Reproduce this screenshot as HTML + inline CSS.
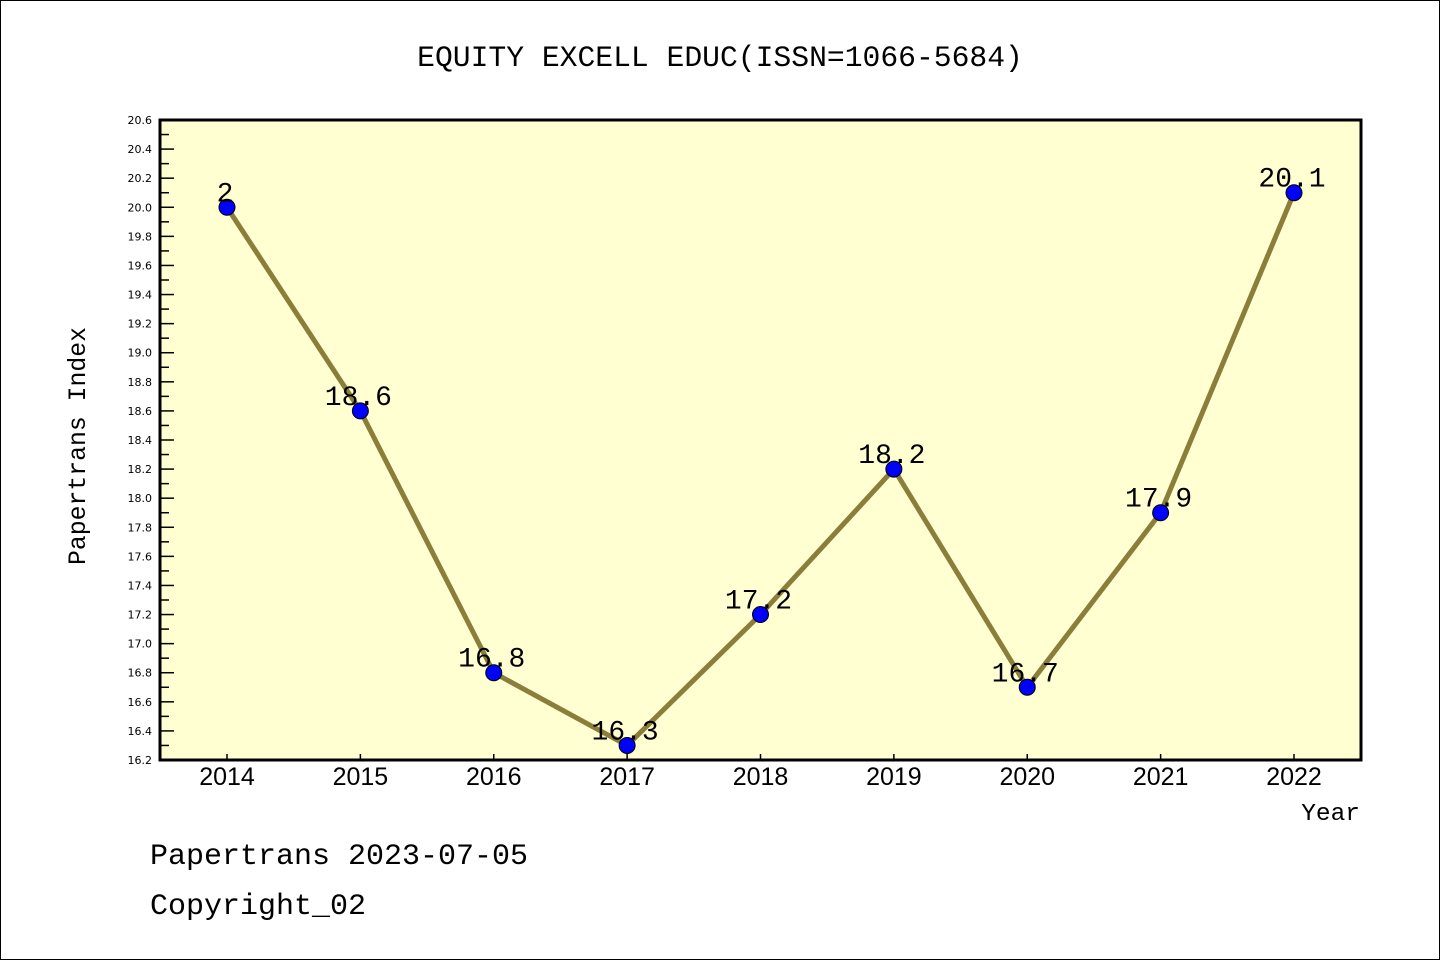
<!DOCTYPE html>
<html><head><meta charset="utf-8"><style>
body{margin:0;background:#fff;}
svg text{font-family:"Liberation Mono","WenQuanYi Zen Hei",monospace;}
</style></head><body>
<svg width="1440" height="960" xmlns="http://www.w3.org/2000/svg">
<rect x="0.5" y="0.5" width="1439" height="959" fill="#fff" stroke="#000"/>
<text x="720" y="66" font-size="29.7" text-anchor="middle">EQUITY EXCELL EDUC(ISSN=1066-5684)</text>
<rect x="160" y="120" width="1201" height="640" fill="#ffffd2"/>
<g id="yticks"></g><g id="xticks"></g>
<g id="series"></g>
<rect x="160" y="120" width="1201" height="640" fill="none" stroke="#000" stroke-width="3"/>
<text transform="translate(85,446) rotate(-90)" font-size="24.8" text-anchor="middle">Papertrans Index</text>
<text x="1360" y="820" font-size="24.5" text-anchor="end">Year</text>
<text x="150" y="864" font-size="30">Papertrans 2023-07-05</text>
<text x="150" y="914" font-size="30">Copyright_02</text>
</svg>
<script>
const years=[2014,2015,2016,2017,2018,2019,2020,2021,2022];
const values=[20.0,18.6,16.8,16.3,17.2,18.2,16.7,17.9,20.1];
const labels=["2","18.6","16.8","16.3","17.2","18.2","16.7","17.9","20.1"];
const yMin=16.2,yMax=20.6;
const NS="http://www.w3.org/2000/svg";
function yS(v){return 760-(v-yMin)/(yMax-yMin)*640;}
function xS(yr){return 227+(yr-2014)*(1294-227)/8;}
function mk(t,a,p){const e=document.createElementNS(NS,t);for(const k in a)e.setAttribute(k,a[k]);p.appendChild(e);return e;}
const yt=document.getElementById('yticks');
for(let i=0;i<=44;i++){const v=yMin+i*0.1,y=yS(v),maj=i%2==0;
const l=mk('line',{x1:160,x2:160+(maj?14:9),y1:y,y2:y,stroke:'#000','stroke-width':1.5},yt);


if(maj){const t=mk('text',{x:152,y:y+4,'font-size':11,'text-anchor':'end',style:'font-family:"DejaVu Sans",sans-serif'},yt);t.textContent=v.toFixed(1);

}}
const xt=document.getElementById('xticks');
years.forEach(yr=>{const x=xS(yr);
const l=mk('line',{x1:x,x2:x,y1:760,y2:754,stroke:'#000','stroke-width':1.5},xt);


const t=mk('text',{x:x,y:785,'font-size':25,'text-anchor':'middle',style:'font-family:"Liberation Sans",sans-serif'},xt);t.textContent=yr;

});
const s=document.getElementById('series');
const pl=mk('polyline',{points:years.map((yr,i)=>xS(yr)+','+yS(values[i])).join(' '),fill:'none',stroke:'#8b7d3a','stroke-width':5},s);


years.forEach((yr,i)=>{const x=xS(yr),y=yS(values[i]);
const c=mk('circle',{cx:x,cy:y,r:8,fill:'#0000ff',stroke:'#000','stroke-width':1},s);


const t=mk('text',{x:x-2,y:y-6,'font-size':28,'text-anchor':'middle'},s);t.textContent=labels[i];

});
</script>
</body></html>
